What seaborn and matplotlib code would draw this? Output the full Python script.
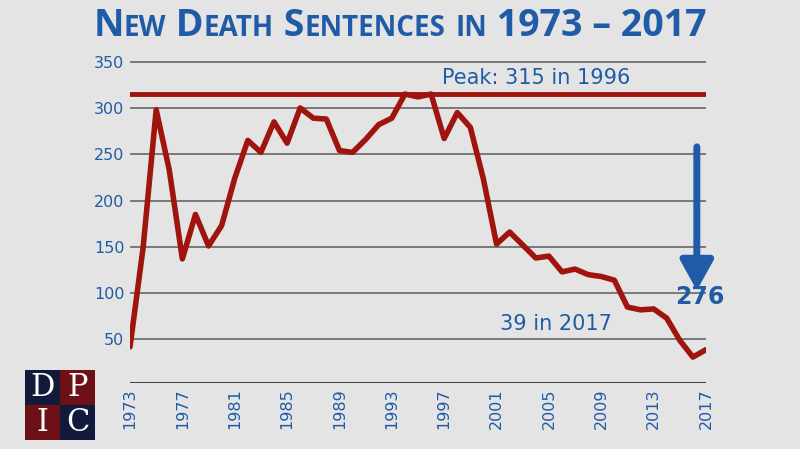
import numpy as np
import matplotlib.pyplot as plt
import seaborn as sns
from matplotlib.patches import Rectangle

years = list(range(1973, 2018))
sentences = [42, 149, 298, 233, 137, 185, 151, 173, 224, 265, 252, 285, 262, 300,
             289, 288, 254, 252, 266, 282, 289, 315, 312, 315, 267, 295, 279, 223,
             153, 166, 152, 138, 140, 123, 126, 120, 118, 114, 85, 82, 83, 73, 49,
             31, 39]
peak = 315
tick_years = list(range(1973, 2018, 4))
title = 'New Death Sentences in 1973 – 2017'

bg = '#e4e4e4'
red = '#a0140e'
blue = '#1f5ba6'
navy = '#121a3c'
maroon = '#6e1116'

sns.set_style("white")
fig = plt.figure(figsize=(8, 4.49), dpi=100, facecolor=bg)
ax = fig.add_axes([0.1625, 0.147, 0.72, 0.726], facecolor=bg)

ax.set_ylim(3, 355)
ax.set_xlim(1973, 2017)
ax.set_yticks(range(50, 351, 50))
ax.yaxis.grid(True, color='#666666', linewidth=1.2)
ax.set_axisbelow(True)
for s in ax.spines.values():
    s.set_visible(False)
ax.axhline(3, color='#444444', linewidth=1.5)

ax.axhline(peak, color=red, linewidth=3.5, zorder=3)
sns.lineplot(x=years, y=sentences, ax=ax, color=red, linewidth=4, zorder=4)

ax.set_xticks(tick_years)
ax.set_xticklabels([str(y) for y in tick_years], rotation=90)
ax.tick_params(axis='both', colors=blue, labelsize=11.5, length=0, pad=4)
for t in ax.get_yticklabels() + ax.get_xticklabels():
    t.set_color(blue)

ax.text(2004, 322, 'Peak: 315 in 1996', color=blue, fontsize=15, ha='center', va='bottom')
ax.text(2005.5, 67, '39 in 2017', color=blue, fontsize=15, ha='center', va='center')
ax.text(2016.5, 96, '276', color=blue, fontsize=17, fontweight='bold', ha='center', va='center')
ax.annotate('', xy=(2016.3, 100), xytext=(2016.3, 261),
            arrowprops=dict(arrowstyle='-|>,head_width=1.0,head_length=1.8',
                            color=blue, linewidth=5))

# small-caps title built from pieces
renderer = fig.canvas.get_renderer()
pieces = []
for ch in title:
    small = ch.islower()
    if pieces and pieces[-1][1] == small:
        pieces[-1][0] += ch.upper()
    else:
        pieces.append([ch.upper(), small])
texts = []
for s, small in pieces:
    t = fig.text(0, 0.92, s, color=blue, fontsize=20 if small else 27, fontweight='bold',
                 ha='left', va='baseline', fontfamily='Open Sans')
    texts.append(t)
widths = [t.get_window_extent(renderer).width for t in texts]
x = (800 - sum(widths)) / 2
for t, wd in zip(texts, widths):
    t.set_position((x / 800, 0.92))
    x += wd

# DPIC logo
lx, ly, w, h = 25 / 800, 9 / 449, 35 / 800, 35 / 449
cells = [('D', navy, 0, 1), ('P', maroon, 1, 1), ('I', maroon, 0, 0), ('C', navy, 1, 0)]
for letter, col, cx, cy in cells:
    fig.patches.append(Rectangle((lx + cx * w, ly + cy * h), w, h, transform=fig.transFigure,
                                 facecolor=col, edgecolor='none'))
    fig.text(lx + cx * w + w / 2, ly + cy * h + h / 2, letter, color='white', fontsize=22,
             ha='center', va='center', fontfamily='DejaVu Serif')

fig.savefig('out.png', dpi=100, facecolor=bg)
